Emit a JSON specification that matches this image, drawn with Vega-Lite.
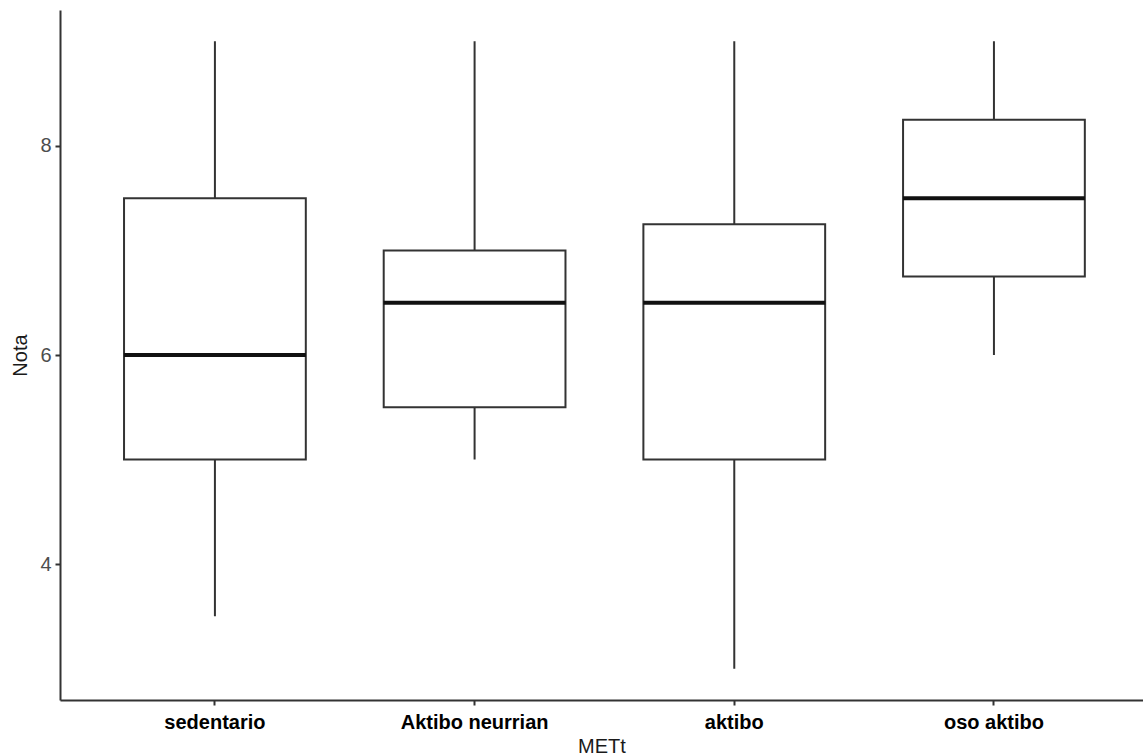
{
  "$schema": "https://vega.github.io/schema/vega-lite/v6.json",
  "autosize": "none",
  "padding": {"left": 60, "top": 10, "right": 0, "bottom": 55},
  "width": 1083,
  "height": 690,
  "background": "white",
  "data": {
    "values": [
      {"METt": "sedentario", "min": 3.5, "q1": 5, "median": 6, "q3": 7.5, "max": 9},
      {"METt": "Aktibo neurrian", "min": 5, "q1": 5.5, "median": 6.5, "q3": 7, "max": 9},
      {"METt": "aktibo", "min": 3, "q1": 5, "median": 6.5, "q3": 7.25, "max": 9},
      {"METt": "oso aktibo", "min": 6, "q1": 6.75, "median": 7.5, "q3": 8.25, "max": 9}
    ]
  },
  "encoding": {
    "x": {
      "field": "METt",
      "type": "nominal",
      "sort": ["sedentario", "Aktibo neurrian", "aktibo", "oso aktibo"],
      "scale": {"paddingInner": 0.3, "paddingOuter": 0.2353, "align": 0.524},
      "axis": {
        "title": "METt",
        "labelAngle": 0,
        "labelFontWeight": "bold",
        "labelColor": "black",
        "labelFontSize": 20,
        "labelPadding": 7,
        "tickSize": 5,
        "titleFontSize": 20,
        "titleFontWeight": "normal",
        "titleColor": "#1a1a1a",
        "titlePadding": 4
      }
    }
  },
  "layer": [
    {
      "mark": {"type": "rule", "stroke": "#333333", "strokeWidth": 2},
      "encoding": {
        "y": {
          "field": "min",
          "type": "quantitative",
          "scale": {"domain": [2.7, 9.3], "nice": false, "zero": false},
          "axis": {
            "title": "Nota",
            "values": [4, 6, 8],
            "format": "d",
            "labelFontSize": 20,
            "labelColor": "#4D4D4D",
            "labelPadding": 4,
            "tickSize": 5,
            "titleFontSize": 20,
            "titleFontWeight": "normal",
            "titleColor": "#1a1a1a",
            "titlePadding": 9
          }
        },
        "y2": {"field": "max"}
      }
    },
    {
      "mark": {"type": "bar", "fill": "white", "stroke": "#333333", "strokeWidth": 2},
      "encoding": {
        "y": {"field": "q1", "type": "quantitative"},
        "y2": {"field": "q3"}
      }
    },
    {
      "mark": {"type": "tick", "color": "#111111", "thickness": 4, "size": 182, "opacity": 1},
      "encoding": {
        "y": {"field": "median", "type": "quantitative"}
      }
    }
  ],
  "config": {
    "view": {"stroke": null},
    "font": "Liberation Sans",
    "axis": {
      "grid": false,
      "domainColor": "#333333",
      "domainWidth": 2,
      "tickColor": "#333333",
      "tickWidth": 2,
      "labelFont": "Liberation Sans",
      "titleFont": "Liberation Sans"
    }
  }
}
